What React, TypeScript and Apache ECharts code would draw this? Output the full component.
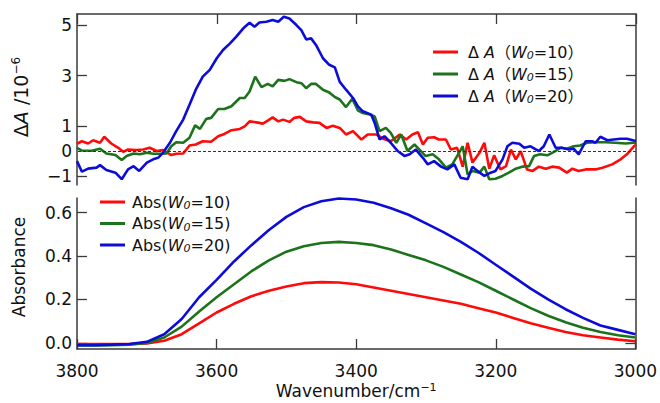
import React, { useEffect, useRef } from "react";
import * as echarts from "echarts";

// ---------- Top panel: ΔA / 10^-6 ----------
const dAWn10 = [3800, 3793, 3784, 3777, 3767, 3761, 3751, 3741, 3734, 3727, 3715, 3705, 3696, 3686, 3677, 3665, 3658, 3648, 3639, 3630, 3620, 3608, 3598, 3589, 3579, 3567, 3560, 3553, 3543, 3534, 3527, 3520, 3512, 3505, 3496, 3489, 3481, 3472, 3462, 3453, 3443, 3434, 3424, 3415, 3405, 3393, 3384, 3372, 3362, 3351, 3338, 3329, 3320, 3312, 3305, 3298, 3289, 3282, 3272, 3265, 3256, 3248, 3241, 3234, 3224, 3217, 3210, 3203, 3194, 3186, 3179, 3172, 3165, 3156, 3148, 3139, 3129, 3120, 3110, 3099, 3091, 3082, 3072, 3058, 3048, 3034, 3022, 3013, 3003, 3000];
const dA10 = [0.29, 0.39, 0.30, 0.43, 0.33, 0.57, 0.30, 0.13, -0.03, 0.06, 0.04, 0.06, 0.13, 0.00, 0.04, -0.16, -0.11, -0.10, 0.22, 0.26, 0.39, 0.37, 0.59, 0.68, 0.83, 0.88, 0.98, 1.18, 1.14, 1.09, 1.21, 1.34, 1.18, 1.25, 1.16, 1.32, 1.36, 1.18, 1.14, 1.12, 0.92, 1.01, 0.92, 0.66, 0.79, 0.46, 0.66, 0.66, 0.49, 0.39, 0.66, 0.46, 0.66, 0.75, 0.26, 0.53, 0.55, 0.46, 0.46, 0.06, 0.13, -0.62, 0.33, -0.46, -0.07, 0.33, -0.70, -0.17, -0.73, -0.60, 0.06, -0.33, 0.00, -0.73, -0.79, -0.62, -0.70, -0.62, -0.66, -0.86, -0.70, -0.79, -0.73, -0.73, -0.66, -0.53, -0.33, -0.13, 0.19, 0.25];

const dAWn15 = [3800, 3793, 3779, 3767, 3758, 3745, 3736, 3729, 3719, 3710, 3700, 3691, 3681, 3672, 3665, 3658, 3648, 3639, 3631, 3624, 3615, 3608, 3598, 3589, 3579, 3567, 3560, 3553, 3545, 3536, 3527, 3520, 3512, 3503, 3496, 3486, 3479, 3472, 3465, 3458, 3448, 3439, 3431, 3424, 3415, 3406, 3398, 3391, 3381, 3374, 3367, 3358, 3351, 3343, 3336, 3327, 3317, 3310, 3301, 3291, 3282, 3272, 3263, 3256, 3248, 3241, 3234, 3224, 3217, 3210, 3201, 3191, 3182, 3172, 3163, 3153, 3146, 3137, 3127, 3118, 3108, 3099, 3089, 3080, 3070, 3058, 3044, 3030, 3015, 3003, 3000];
const dA15 = [0.13, 0.02, 0.01, 0.09, -0.10, -0.16, -0.36, -0.20, -0.10, -0.13, -0.07, -0.11, -0.11, -0.10, 0.19, 0.35, 0.33, 0.53, 1.02, 0.88, 1.28, 1.32, 1.67, 1.67, 1.78, 2.11, 2.11, 2.37, 2.96, 2.54, 2.67, 2.57, 2.83, 2.79, 2.86, 2.74, 2.70, 2.50, 2.67, 2.67, 2.44, 2.33, 2.15, 2.05, 1.75, 2.08, 1.62, 1.51, 1.45, 1.38, 0.79, 0.92, 0.72, 0.33, 0.66, 0.00, 0.26, 0.06, -0.20, -0.13, -0.33, -0.66, -0.53, -0.20, 0.19, -0.93, -0.79, -0.86, -0.62, -1.12, -1.10, -0.99, -0.86, -0.70, -0.62, -0.60, -0.20, -0.13, -0.17, -0.04, 0.13, 0.09, 0.19, 0.22, 0.33, 0.35, 0.35, 0.33, 0.30, 0.33, 0.33];

const dAWn20 = [3800, 3793, 3784, 3772, 3767, 3758, 3745, 3736, 3727, 3719, 3711, 3700, 3691, 3684, 3677, 3667, 3658, 3648, 3639, 3630, 3620, 3610, 3600, 3591, 3581, 3572, 3562, 3553, 3546, 3539, 3529, 3520, 3512, 3504, 3496, 3486, 3479, 3472, 3465, 3458, 3448, 3439, 3431, 3424, 3415, 3405, 3398, 3391, 3379, 3374, 3367, 3360, 3351, 3341, 3331, 3324, 3315, 3305, 3298, 3289, 3279, 3270, 3260, 3251, 3241, 3234, 3227, 3217, 3208, 3201, 3191, 3184, 3177, 3167, 3160, 3151, 3139, 3132, 3124, 3115, 3106, 3096, 3089, 3082, 3072, 3063, 3058, 3051, 3041, 3032, 3022, 3013, 3003, 3000];
const dA20 = [-0.40, -0.82, -0.70, -0.66, -0.56, -0.75, -0.86, -1.12, -0.73, -0.60, -0.79, -0.46, -0.33, -0.27, -0.07, 0.33, 0.79, 1.25, 1.84, 2.44, 2.96, 3.23, 3.69, 4.02, 4.28, 4.55, 4.88, 5.10, 4.94, 5.11, 5.14, 5.21, 5.14, 5.34, 5.27, 5.01, 4.81, 4.44, 4.48, 4.22, 3.69, 3.43, 3.33, 2.75, 2.44, 2.11, 1.78, 1.58, 1.45, 1.12, 0.46, 0.59, 0.33, 0.00, -0.20, -0.13, 0.06, -0.27, -0.53, -0.40, -0.62, -0.73, -0.53, -1.06, -1.12, -0.62, -0.79, -0.99, -0.86, -0.79, -0.33, 0.19, 0.33, 0.29, 0.13, 0.19, 0.00, 0.19, 0.66, 0.13, 0.13, 0.06, 0.09, -0.13, 0.39, 0.39, 0.33, 0.57, 0.43, 0.46, 0.49, 0.49, 0.42, 0.40];

// ---------- Bottom panel: Absorbance ----------
const absWn = [3800, 3775, 3750, 3725, 3700, 3675, 3650, 3625, 3600, 3575, 3550, 3525, 3500, 3475, 3450, 3425, 3400, 3375, 3350, 3325, 3300, 3275, 3250, 3225, 3200, 3175, 3150, 3125, 3100, 3075, 3050, 3025, 3000];
const abs10 = [-0.005, -0.005, -0.005, -0.005, -0.003, 0.01, 0.04, 0.09, 0.14, 0.18, 0.215, 0.24, 0.26, 0.275, 0.28, 0.278, 0.27, 0.255, 0.24, 0.225, 0.21, 0.195, 0.18, 0.16, 0.14, 0.115, 0.09, 0.07, 0.05, 0.035, 0.025, 0.015, 0.008];
const abs15 = [-0.012, -0.012, -0.01, -0.008, 0.0, 0.025, 0.075, 0.145, 0.21, 0.27, 0.33, 0.38, 0.42, 0.445, 0.46, 0.465, 0.46, 0.45, 0.43, 0.405, 0.38, 0.35, 0.315, 0.28, 0.24, 0.2, 0.16, 0.125, 0.095, 0.07, 0.05, 0.035, 0.025];
const abs20 = [-0.01, -0.01, -0.008, -0.005, 0.005, 0.04, 0.11, 0.21, 0.29, 0.375, 0.45, 0.52, 0.58, 0.625, 0.652, 0.665, 0.66, 0.645, 0.62, 0.59, 0.55, 0.51, 0.465, 0.415, 0.36, 0.305, 0.25, 0.2, 0.155, 0.115, 0.08, 0.06, 0.04];

// ---------- Ticks ----------
const xTicks = [3800, 3600, 3400, 3200, 3000];
const dATickValues = [5, 3, 1, -1];
const dALabelValues = [5, 3, 1, 0, -1];
const absTickValues = [0, 0.2, 0.4, 0.6];

const RED = "#ff0a0a";
const GREEN = "#1c731c";
const BLUE = "#0c0cd8";
const AXIS = "#3a3a3a";
const FONT = "DejaVu Sans, Noto Sans CJK JP, sans-serif";
const TXT = "#111";

const pairs = (w: number[], v: number[]) => w.map((x, i) => [x, v[i]]);

const legendLabels: Record<string, string> = {
  dA10: "{n|Δ }{i|A}{n|（}{i|W}{s|0}{n|=10）}",
  dA15: "{n|Δ }{i|A}{n|（}{i|W}{s|0}{n|=15）}",
  dA20: "{n|Δ }{i|A}{n|（}{i|W}{s|0}{n|=20）}",
  Abs10: "{n|Abs(}{i|W}{s|0}{n|=10)}",
  Abs15: "{n|Abs(}{i|W}{s|0}{n|=15)}",
  Abs20: "{n|Abs(}{i|W}{s|0}{n|=20)}",
};

const richLegend = {
  n: { fontSize: 16, fontFamily: FONT, color: TXT, lineHeight: 18 },
  i: { fontSize: 16, fontFamily: FONT, color: TXT, fontStyle: "italic", lineHeight: 18 },
  s: { fontSize: 11, fontFamily: FONT, color: TXT, fontStyle: "italic", verticalAlign: "bottom", lineHeight: 12 },
};

const fmtMinus = (v: number) => (v < 0 ? "−" + Math.abs(v) : String(v));

export default function App() {
  const ref = useRef<HTMLDivElement>(null);
  useEffect(() => {
    if (!ref.current) return;
    const chart = echarts.init(ref.current, null, { renderer: "svg" });
    const axisLine = { show: true, onZero: false, lineStyle: { color: AXIS, width: 1.5 } };
    const tickIn = { show: true, inside: true, length: 10, lineStyle: { color: AXIS, width: 1.3 } };

    const xBase = {
      type: "value",
      min: 3000,
      max: 3800,
      interval: 200,
      inverse: true,
      splitLine: { show: false },
      axisLine,
      axisTick: tickIn,
    };

    const lineSeries = (name: string, data: number[][], color: string, xi: number, yi: number, extra: any = {}) => ({
      name,
      type: "line",
      xAxisIndex: xi,
      yAxisIndex: yi,
      data,
      showSymbol: false,
      symbol: "none",
      lineStyle: { color, width: 2.6 },
      itemStyle: { color },
      silent: true,
      ...extra,
    });

    chart.setOption({
      animation: false,
      backgroundColor: "#ffffff",
      grid: [
        { left: 77, right: 24, top: 14, height: 171, containLabel: false },
        { left: 77, right: 24, top: 198, height: 151, containLabel: false },
      ],
      graphic: [
        {
          type: "text",
          x: 21,
          y: 97,
          rotation: Math.PI / 2,
          silent: true,
          style: {
            text: "{n|Δ}{i|A}{n| /10}{sup|−6}",
            align: "center",
            verticalAlign: "middle",
            fontSize: 19,
            fontFamily: FONT,
            fill: TXT,
            rich: {
              n: { fontSize: 19, fontFamily: FONT, fill: TXT, lineHeight: 22 },
              i: { fontSize: 19, fontFamily: FONT, fill: TXT, fontStyle: "italic", lineHeight: 22 },
              sup: { fontSize: 12, fontFamily: FONT, fill: TXT, verticalAlign: "top", lineHeight: 13 },
            },
          },
        },
        {
          type: "text",
          x: 19,
          y: 267,
          rotation: Math.PI / 2,
          silent: true,
          style: {
            text: "Absorbance",
            align: "center",
            verticalAlign: "middle",
            fontSize: 17,
            fontFamily: FONT,
            fill: TXT,
          },
        },
      ],
      xAxis: [
        { ...xBase, gridIndex: 0, position: "top", axisLabel: { show: false } },
        {
          ...xBase,
          gridIndex: 1,
          position: "bottom",
          axisLabel: {
            show: true,
            margin: 13,
            fontSize: 17,
            fontFamily: FONT,
            color: TXT,
            formatter: (v: number) => String(v),
          },
          name: "{n|Wavenumber/cm}{sup|−1}",
          nameLocation: "middle",
          nameGap: 33,
          nameTextStyle: {
            fontSize: 17,
            fontFamily: FONT,
            color: TXT,
            rich: {
              n: { fontSize: 17, fontFamily: FONT, color: TXT },
              sup: { fontSize: 11, fontFamily: FONT, color: TXT, verticalAlign: "top", lineHeight: 12 },
            },
          },
        },
      ],
      yAxis: [
        {
          type: "value",
          gridIndex: 0,
          position: "left",
          min: -1.35,
          max: 5.45,
          splitLine: { show: false },
          axisLine,
          axisTick: { ...tickIn, customValues: dATickValues },
          axisLabel: {
            show: true,
            margin: 5,
            fontSize: 17,
            fontFamily: FONT,
            color: TXT,
            customValues: dALabelValues,
            formatter: fmtMinus,
          },
        },
        {
          type: "value",
          gridIndex: 0,
          position: "right",
          min: -1.35,
          max: 5.45,
          splitLine: { show: false },
          axisLine,
          axisTick: { ...tickIn, customValues: dATickValues },
          axisLabel: { show: false },
        },
        {
          type: "value",
          gridIndex: 1,
          position: "left",
          min: -0.028,
          max: 0.667,
          splitLine: { show: false },
          axisLine,
          axisTick: { ...tickIn, customValues: absTickValues },
          axisLabel: {
            show: true,
            margin: 5,
            fontSize: 17,
            fontFamily: FONT,
            color: TXT,
            customValues: absTickValues,
            formatter: (v: number) => v.toFixed(1),
          },
        },
        {
          type: "value",
          gridIndex: 1,
          position: "right",
          min: -0.028,
          max: 0.667,
          splitLine: { show: false },
          axisLine,
          axisTick: { ...tickIn, customValues: absTickValues },
          axisLabel: { show: false },
        },
      ],
      legend: [
        {
          data: ["dA10", "dA15", "dA20"],
          orient: "vertical",
          left: 433,
          top: 44,
          padding: 0,
          itemWidth: 25,
          itemHeight: 3,
          itemGap: 5,
          icon: "rect",
          selectedMode: false,
          formatter: (n: string) => legendLabels[n],
          textStyle: { padding: [0, 0, 0, 5], rich: richLegend },
        },
        {
          data: ["Abs10", "Abs15", "Abs20"],
          orient: "vertical",
          left: 100,
          top: 194,
          padding: 0,
          itemWidth: 25,
          itemHeight: 3,
          itemGap: 4.5,
          icon: "rect",
          selectedMode: false,
          formatter: (n: string) => legendLabels[n],
          textStyle: { padding: [0, 0, 0, 2], rich: richLegend },
        },
      ],
      series: [
        lineSeries("dA10", pairs(dAWn10, dA10), RED, 0, 0, {
          markLine: {
            silent: true,
            symbol: ["none", "none"],
            label: { show: false },
            lineStyle: { color: "#333", type: [3, 2], width: 1 },
            data: [{ yAxis: 0 }],
          },
        }),
        lineSeries("dA15", pairs(dAWn15, dA15), GREEN, 0, 0),
        lineSeries("dA20", pairs(dAWn20, dA20), BLUE, 0, 0),
        lineSeries("Abs10", pairs(absWn, abs10), RED, 1, 2),
        lineSeries("Abs15", pairs(absWn, abs15), GREEN, 1, 2),
        lineSeries("Abs20", pairs(absWn, abs20), BLUE, 1, 2),
      ],
    });
    return () => chart.dispose();
  }, []);
  return <div ref={ref} style={{ position: "fixed", left: 0, top: 0, width: 660, height: 403 }} />;
}
